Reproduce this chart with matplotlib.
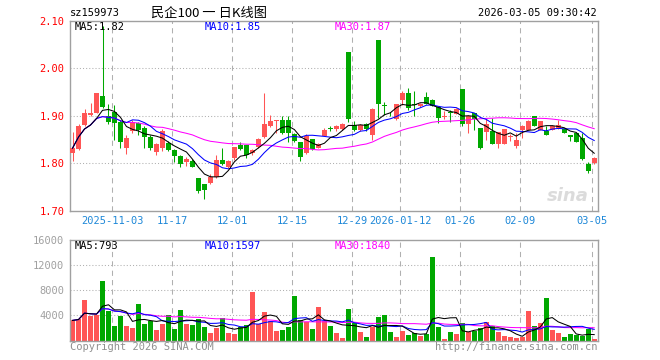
import matplotlib
matplotlib.use('Agg')
import matplotlib.pyplot as plt
import numpy as np
import pandas as pd

# ---------------- data ----------------
opens = [1.822, 1.830, 1.881, 1.902, 1.907, 1.942, 1.900, 1.908, 1.888, 1.832,
         1.868, 1.886, 1.874, 1.855, 1.823, 1.832, 1.842, 1.828, 1.816, 1.804,
         1.805, 1.769, 1.757, 1.758, 1.772, 1.807, 1.793, 1.811, 1.839, 1.839,
         1.821, 1.835, 1.855, 1.878, 1.890, 1.892, 1.892, 1.861, 1.846, 1.821,
         1.852, 1.832, 1.858, 1.874, 1.872, 1.872, 2.035, 1.880, 1.871, 1.882,
         1.860, 2.060, 1.921, 1.902, 1.893, 1.934, 1.949, 1.924, 1.921, 1.939,
         1.934, 1.918, 1.897, 1.907, 1.904, 1.957, 1.883, 1.907, 1.874, 1.867,
         1.868, 1.841, 1.841, 1.856, 1.837, 1.871, 1.871, 1.899, 1.871, 1.869,
         1.871, 1.874, 1.872, 1.860, 1.865, 1.854, 1.799, 1.800]
closes = [1.832, 1.879, 1.906, 1.906, 1.949, 1.918, 1.888, 1.885, 1.844, 1.853,
          1.888, 1.871, 1.855, 1.832, 1.840, 1.868, 1.828, 1.816, 1.799, 1.809,
          1.793, 1.743, 1.744, 1.771, 1.807, 1.799, 1.805, 1.835, 1.830, 1.818,
          1.828, 1.852, 1.883, 1.889, 1.891, 1.864, 1.864, 1.848, 1.813, 1.858,
          1.830, 1.840, 1.871, 1.873, 1.879, 1.883, 1.893, 1.871, 1.880, 1.872,
          1.914, 1.925, 1.920, 1.901, 1.925, 1.949, 1.916, 1.923, 1.925, 1.925,
          1.921, 1.895, 1.899, 1.906, 1.914, 1.883, 1.899, 1.893, 1.832, 1.883,
          1.841, 1.867, 1.873, 1.857, 1.849, 1.879, 1.890, 1.878, 1.890, 1.860,
          1.879, 1.881, 1.865, 1.855, 1.846, 1.809, 1.785, 1.812]
highs = [1.866, 1.882, 1.914, 1.927, 1.949, 2.089, 1.925, 1.923, 1.892, 1.860,
         1.892, 1.888, 1.878, 1.860, 1.842, 1.873, 1.848, 1.830, 1.818, 1.814,
         1.809, 1.769, 1.757, 1.778, 1.818, 1.833, 1.807, 1.835, 1.844, 1.839,
         1.831, 1.853, 1.948, 1.902, 1.892, 1.900, 1.900, 1.863, 1.846, 1.862,
         1.852, 1.842, 1.874, 1.879, 1.881, 1.886, 2.035, 1.890, 1.883, 1.884,
         1.916, 2.060, 1.930, 1.909, 1.925, 1.953, 1.958, 1.953, 1.926, 1.951,
         1.935, 1.918, 1.911, 1.913, 1.916, 1.957, 1.902, 1.907, 1.874, 1.893,
         1.896, 1.867, 1.873, 1.861, 1.864, 1.881, 1.892, 1.899, 1.890, 1.878,
         1.880, 1.892, 1.874, 1.860, 1.865, 1.864, 1.804, 1.813]
lows = [1.805, 1.828, 1.879, 1.899, 1.907, 1.916, 1.883, 1.849, 1.832, 1.819,
        1.864, 1.860, 1.833, 1.828, 1.818, 1.827, 1.826, 1.802, 1.793, 1.795,
        1.792, 1.737, 1.725, 1.757, 1.770, 1.797, 1.790, 1.808, 1.828, 1.811,
        1.818, 1.832, 1.853, 1.877, 1.864, 1.862, 1.846, 1.846, 1.806, 1.819,
        1.829, 1.832, 1.857, 1.868, 1.869, 1.870, 1.888, 1.868, 1.869, 1.868,
        1.849, 1.895, 1.902, 1.899, 1.891, 1.923, 1.913, 1.899, 1.918, 1.924,
        1.920, 1.885, 1.894, 1.888, 1.903, 1.879, 1.865, 1.871, 1.830, 1.849,
        1.841, 1.833, 1.841, 1.848, 1.832, 1.853, 1.871, 1.878, 1.870, 1.860,
        1.870, 1.873, 1.864, 1.848, 1.846, 1.807, 1.779, 1.799]
volumes = [3200, 3470, 6400, 3950, 4000, 9440, 4640, 2350, 3950, 2350,
           1920, 5870, 2670, 3040, 1700, 2670, 4100, 1870, 4900, 2670,
           2500, 3470, 2080, 1230, 1920, 3630, 1230, 960, 2190, 2450,
           7680, 2610, 4480, 3040, 1440, 1700, 2190, 7040, 3200, 2930,
           1870, 5390, 3040, 2350, 1230, 430, 5070, 2720, 1390, 590,
           2080, 3790, 4100, 1390, 590, 1550, 910, 1170, 750, 960,
           13230, 2190, 270, 1390, 1070, 2830, 1280, 1550, 2030, 2990,
           2240, 1280, 750, 480, 370, 480, 4640, 2350, 2830, 6830,
           1600, 1230, 480, 1070, 850, 640, 1870, 270]
tick_pos = [7, 17, 27, 37, 47, 55, 65, 75, 87]
tick_labels = ['2025-11-03', '11-17', '12-01', '12-15', '12-29',
               '2026-01-12', '01-26', '02-09', '03-05']
price_ticks = [1.70, 1.80, 1.90, 2.00, 2.10]
vol_ticks = [4000, 8000, 12000, 16000]

# ---------------- style ----------------
RED = '#FF5555'
GREEN = '#00A800'
GRID = '#B0B0B0'
FRAME = '#A0A0A0'
MONO = 'DejaVu Sans Mono'
W, H = 660, 360
LW = 0.75

fig = plt.figure(figsize=(6.6, 3.6), dpi=100)
fig.patch.set_facecolor('white')

def fx(px):
    return px / W

def fy(py):
    return 1 - py / H

ax = fig.add_axes([fx(70), fy(211), fx(597.5) - fx(70), fy(20.7) - fy(211)])
axv = fig.add_axes([fx(70), fy(340.5), fx(597.5) - fx(70), fy(240) - fy(340.5)])

n = len(closes)
x = np.arange(n)
o = np.array(opens); c = np.array(closes); h = np.array(highs); l = np.array(lows)
v = np.array(volumes)
up = c >= o
colors = np.where(up, RED, GREEN)

xlim = (-0.42, 87.55)

for a in (ax, axv):
    a.set_xlim(*xlim)
    for s in a.spines.values():
        s.set_color(FRAME)
        s.set_linewidth(1.0)
    a.tick_params(length=0)
    a.set_xticks([])
    for tp in tick_pos:
        a.axvline(tp - 0.42, color=GRID, lw=LW, ls=(0, (5, 4)), zorder=0)

# ---- price panel ----
ax.set_ylim(1.70, 2.10)
for yv in price_ticks[1:-1]:
    ax.axhline(yv, color=GRID, lw=LW, ls=(0, (1, 2)), zorder=0)
ax.set_yticks(price_ticks)
ax.set_yticklabels([f'{t:.2f}' for t in price_ticks], color='#FF0000',
                   fontsize=7.5, family=MONO)
ax.tick_params(axis='y', pad=4)

ax.vlines(x, l, h, colors=colors, lw=LW, zorder=2)
body_h = np.maximum(np.abs(c - o), 0.0018)
body_b = np.minimum(o, c)
ax.bar(x, body_h, bottom=body_b, width=0.8, color=colors, lw=0, zorder=3)

cs = pd.Series(closes)
ma5 = cs.rolling(5, min_periods=1).mean()
ma10 = cs.rolling(10, min_periods=1).mean()
ma30 = cs.rolling(30, min_periods=1).mean()
ax.plot(x, ma30, color='#FF00FF', lw=LW, zorder=4)
ax.plot(x, ma10, color='#0000FF', lw=LW, zorder=4)
ax.plot(x, ma5, color='black', lw=LW, zorder=4)

for tp, tl in zip(tick_pos, tick_labels):
    fig.text(fx(72.5 + 6 * tp - 2.5), fy(221), tl, color='#1E88D8', fontsize=7.5,
             family=MONO, ha='center', va='center')

# ---- volume panel ----
axv.set_ylim(0, 16000)
for yv in vol_ticks[:-1]:
    axv.axhline(yv, color=GRID, lw=LW, ls=(0, (1, 2)), zorder=0)
axv.set_yticks(vol_ticks)
axv.set_yticklabels([str(t) for t in vol_ticks], color='#A0A0A0', fontsize=7.5,
                    family=MONO)
axv.tick_params(axis='y', pad=4)
axv.bar(x, v, width=0.83, color=colors, lw=0, zorder=2)
vs = pd.Series(volumes)
axv.plot(x, vs.rolling(30, min_periods=1).mean(), color='#FF00FF', lw=LW, zorder=3)
axv.plot(x, vs.rolling(10, min_periods=1).mean(), color='#0000FF', lw=LW, zorder=3)
axv.plot(x, vs.rolling(5, min_periods=1).mean(), color='black', lw=LW, zorder=3)

# ---- texts ----
fig.text(fx(70), fy(13.3), 'sz159973', fontsize=7.5, family=MONO, va='center', ha='left')
fig.text(fx(209), fy(13.3), '民企100 一 日K线图', fontsize=9.5,
         family=['Noto Sans CJK SC', 'DejaVu Sans'], va='center', ha='center')
fig.text(fx(597), fy(13.3), '2026-03-05 09:30:42', fontsize=7.5, family=MONO,
         va='center', ha='right')

fig.text(fx(75), fy(26.5), 'MA5:1.82', fontsize=7.5, family=MONO, color='black', va='center')
fig.text(fx(205), fy(26.5), 'MA10:1.85', fontsize=7.5, family=MONO, color='#0000FF', va='center')
fig.text(fx(335), fy(26.5), 'MA30:1.87', fontsize=7.5, family=MONO, color='#FF00FF', va='center')

fig.text(fx(75), fy(246), 'MA5:793', fontsize=7.5, family=MONO, color='black', va='center')
fig.text(fx(205), fy(246), 'MA10:1597', fontsize=7.5, family=MONO, color='#0000FF', va='center')
fig.text(fx(335), fy(246), 'MA30:1840', fontsize=7.5, family=MONO, color='#FF00FF', va='center')

fig.text(fx(70), fy(346.5), 'Copyright 2026 SINA.COM', fontsize=7.5, family=MONO,
         color='#909090', va='center', ha='left')
fig.text(fx(597), fy(347.5), 'http://finance.sina.com.cn', fontsize=7.5, family=MONO,
         color='#909090', va='center', ha='right')

# sina watermark
fig.text(fx(568), fy(196), 'sina', fontsize=13, family='DejaVu Sans', style='italic',
         weight='bold', color='#D8D8D8', va='center', ha='center', alpha=0.9, zorder=0)

fig.savefig('out.png', dpi=100, facecolor='white')
